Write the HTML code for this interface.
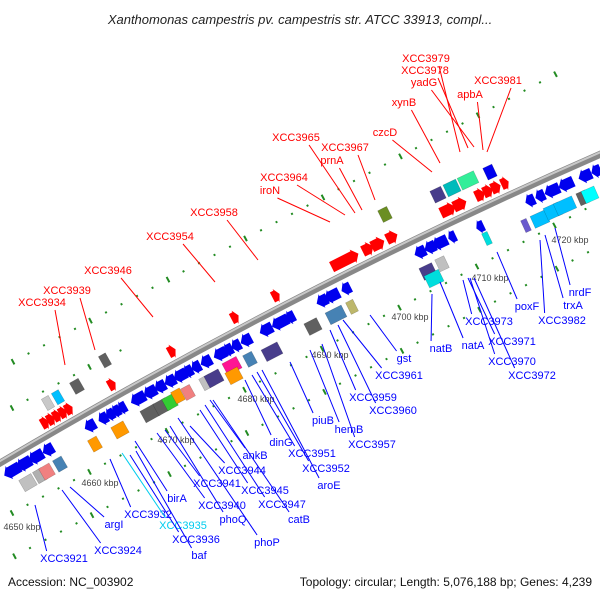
<!DOCTYPE html>
<html><head><meta charset="utf-8"><style>
body{margin:0;background:#fff;}
svg{display:block;font-family:"Liberation Sans",sans-serif;}
</style></head><body>
<svg id="c" width="600" height="600" viewBox="0 0 600 600">
<text x="300" y="24" text-anchor="middle" font-size="13" font-style="italic" fill="#222">Xanthomonas campestris pv. campestris str. ATCC 33913, compl...</text>
<text x="8" y="586" font-size="12" fill="#111">Accession: NC_003902</text>
<text x="592" y="586" text-anchor="end" font-size="12" fill="#111">Topology: circular; Length: 5,076,188 bp; Genes: 4,239</text>
<g id="dots"></g>
<path id="bb" d="M-10,469 Q300,285 610,150" stroke="#888" stroke-width="7" fill="none"/>
<path d="M-10,467 Q300,283 610,148" stroke="#c8c8c8" stroke-width="2" fill="none"/>
<g id="genes"></g>
<g id="lbls"></g>
</svg>
<script>
// tick data
const tickLabels=["4650 kbp","4660 kbp","4670 kbp","4680 kbp","4690 kbp","4700 kbp","4710 kbp","4720 kbp"];
const tickX=[22,100,176,256,330,410,490,570];
const tickY=[530,486,443,402,358,320,281,243];
// features: x along backbone, offset, width, color, shape
const featX=[12,24,36,48, 90,103,110,116,122, 138,150,160,170,180,188,196,206, 220,228,236,246, 266,280,290, 322,332,346, 420,430,440,452, 480, 530,540,552,566, 585,596,
 28,40,47,60, 95,120, 150,162,170,178,188, 207,214, 232,234, 250, 272, 313,336,352, 428,434,442, 487, 526,540,553,565,583,590,
 45,51,57,63,69, 112, 172, 235, 276, 345,368,378,392, 448,460, 480,488,496,505,
 48,58,77,105,385,438,452,468,490];
const featOff=[15,15,15,15, 15,15,15,15,15, 15,15,15,15,15,15,15,15, 15,15,15,15, 15,15,15, 15,15,15, 15,15,15,15, 18, 15,15,15,15, 15,15,
 36,36,36,36, 36,36, 36,36,36,34,36, 36,36, 33,44, 36, 40, 36,36,36, 38,48,37, 33, 38,38,36,36,36,36,
 -14,-14,-14,-14,-14, -14, -14, -14, -14, -14,-14,-14,-14, -14,-14, -14,-14,-14,-14,
 -32,-32,-32,-42,-40,-34,-34,-34,-32];
const featW=[18,16,16,12, 12,10,9,9,9, 16,14,12,12,14,10,10,12, 14,10,10,12, 14,18,10, 12,16,10, 12,12,16,8, 8, 10,10,16,16, 14,10,
 14,10,12,10, 10,14, 16,14,12,10,10, 12,16, 16,14, 10, 18, 14,18,8, 14,16,10, 6, 6,16,16,20,10,14,
 8,8,8,8,8, 8, 8, 8, 8, 30,12,14,12, 16,14, 10,10,10,8,
 8,8,10,8,10,12,14,18,10];
const featC=Array(38).fill("#0000ee").concat(
 ["#c0c0c0","#b0b0b0","#f08080","#4682b4","#ff9900","#ff9900","#606060","#606060","#33cc33","#ff9900","#f08080","#c0c0c0","#483d8b","#ff1493","#ff9900","#4682b4","#483d8b","#606060","#4682b4","#bdb76b","#483d8b","#00dddd","#c0c0c0","#00dddd","#6a5acd","#00bfff","#00bfff","#00bfff","#606060","#00ffff"],
 Array(19).fill("#ff0000"),
 ["#c8c8c8","#00bfff","#606060","#606060","#6b8e23","#483d8b","#00bbbb","#33ee99","#0000ee"]);
const featS=Array(38).fill("L").concat(Array(30).fill("B"),Array(19).fill("R"),Array(9).fill("B"));
// red labels
const redLab=["XCC3934","XCC3939","XCC3946","XCC3954","XCC3958","iroN","XCC3964","XCC3965","prnA","XCC3967","czcD","xynB","XCC3979","XCC3978","yadG","apbA","XCC3981"];
const redLX=[42,67,108,170,214,270,284,296,332,345,385,404,426,425,424,470,498];
const redLY=[306,294,274,240,216,194,181,141,164,151,136,106,62,74,86,98,84];
const redTX=[65,95,153,215,258,330,345,355,362,375,432,440,460,468,474,483,487];
const redTY=[365,350,317,282,260,222,215,213,210,200,172,163,152,148,147,150,152];
// blue labels
const blueLab=["XCC3921","XCC3924","argI","XCC3932","XCC3935","XCC3936","baf","birA","XCC3940","phoQ","phoP","XCC3941","XCC3944","XCC3945","XCC3947","catB","ankB","dinG","XCC3951","XCC3952","aroE","piuB","hemB","XCC3957","XCC3959","XCC3960","XCC3961","gst","natB","natA","XCC3973","XCC3971","XCC3970","XCC3972","poxF","XCC3982","trxA","nrdF"];
const blueLX=[64,118,114,148,183,196,199,177,222,233,267,217,242,265,282,299,255,281,312,326,329,323,349,372,373,393,399,404,441,473,489,512,512,532,527,562,573,580];
const blueLY=[562,554,528,518,529,543,559,502,509,523,546,487,474,494,508,523,459,446,457,472,489,424,433,448,401,414,379,362,352,349,325,345,365,379,310,324,309,296];
const blueTX=[35,62,70,110,122,130,136,135,157,170,178,165,190,200,205,213,210,245,252,257,262,290,310,322,330,338,343,370,432,440,463,468,470,474,497,540,545,555];
const blueTY=[505,490,487,459,453,455,451,441,433,426,418,430,426,410,405,400,400,380,375,372,370,362,350,344,330,325,320,315,294,282,280,278,278,278,252,240,235,228];
</script>
<script>
const NS="http://www.w3.org/2000/svg";
function bbY(x){const t=(x+10)/620;return (1-t)*(1-t)*469+2*t*(1-t)*285+t*t*150;}
function bbA(x){return Math.atan2(bbY(x+1)-bbY(x-1),2)*180/Math.PI;}
function mk(tag,attrs,parent){const e=document.createElementNS(NS,tag);for(const k in attrs)e.setAttribute(k,attrs[k]);parent.appendChild(e);return e;}
const dots=document.getElementById('dots'),genes=document.getElementById('genes'),lbls=document.getElementById('lbls');
// dotted track lines
const rows=[[137,296,-0.53,0,560],[12,408,-0.53,0,130],[12,513,-0.53,0,600],[30,548,-0.53,0,600]];
rows.forEach((r,ri)=>{let i=0;for(let x=r[3]+((r[0]-r[3])%15.5);x<=r[4];x+=15.5,i++){const y=r[1]+r[2]*(x-r[0]);
 const d=mk('rect',{x:x-1,y:y-(i%5==0?3:1),width:2,height:i%5==0?6:2,fill:"#228b22",transform:`rotate(${-28},${x},${y})`},dots);
 
 }});
// ticks
tickLabels.forEach((t,i)=>{const e=mk('text',{x:tickX[i],y:tickY[i],'font-size':9,fill:'#444','text-anchor':'middle'},lbls);e.textContent=t;
 
 });
// features
featX.forEach((x,i)=>{const y=bbY(x)+featOff[i],a=bbA(x),w=featW[i],h=featS[i]=="B"?13:15,s=featS[i];
 let el;
 if(s=="B"){el=mk('rect',{x:x-w/2,y:y-h/2,width:w,height:h,fill:featC[i],stroke:"rgba(0,0,0,0.25)","stroke-width":0.5,transform:`rotate(${a},${x},${y})`},genes);}
 else{const hw=w/2,hh=h/2,tip=Math.min(w*0.5,6),b=0.75;let p;
  if(s=="R")p=`${x-hw},${y-hh*b} ${x+hw-tip},${y-hh*b} ${x+hw-tip},${y-hh} ${x+hw},${y} ${x+hw-tip},${y+hh} ${x+hw-tip},${y+hh*b} ${x-hw},${y+hh*b}`;
  else p=`${x+hw},${y-hh*b} ${x-hw+tip},${y-hh*b} ${x-hw+tip},${y-hh} ${x-hw},${y} ${x-hw+tip},${y+hh} ${x-hw+tip},${y+hh*b} ${x+hw},${y+hh*b}`;
  el=mk('polygon',{points:p,fill:featC[i],transform:`rotate(${a},${x},${y})`},genes);}
 
 });
// labels
function lab(names,lx,ly,tx,ty,col,above){names.forEach((n,i)=>{
 const w=n.length*6.2;const sx=lx[i],sy=above?ly[i]+4:ly[i]-11;
 const ln=mk('line',{x1:sx+(above?w*0.3:-w*0.4),y1:sy,x2:tx[i],y2:ty[i],stroke:(n=="XCC3935"?"#00ccee":(above?"#ff0000":"#0000ff")),"stroke-width":1},lbls);
 
 
 const t=mk('text',{x:lx[i],y:ly[i],'font-size':11,'text-anchor':'middle',fill:(n=="XCC3935"?"#00ccee":col)},lbls);t.textContent=n;
 
 });}
lab(redLab,redLX,redLY,redTX,redTY,"#ff0000",true);
lab(blueLab,blueLX,blueLY,blueTX,blueTY,"#0000ff",false);
</script>
</body></html>
